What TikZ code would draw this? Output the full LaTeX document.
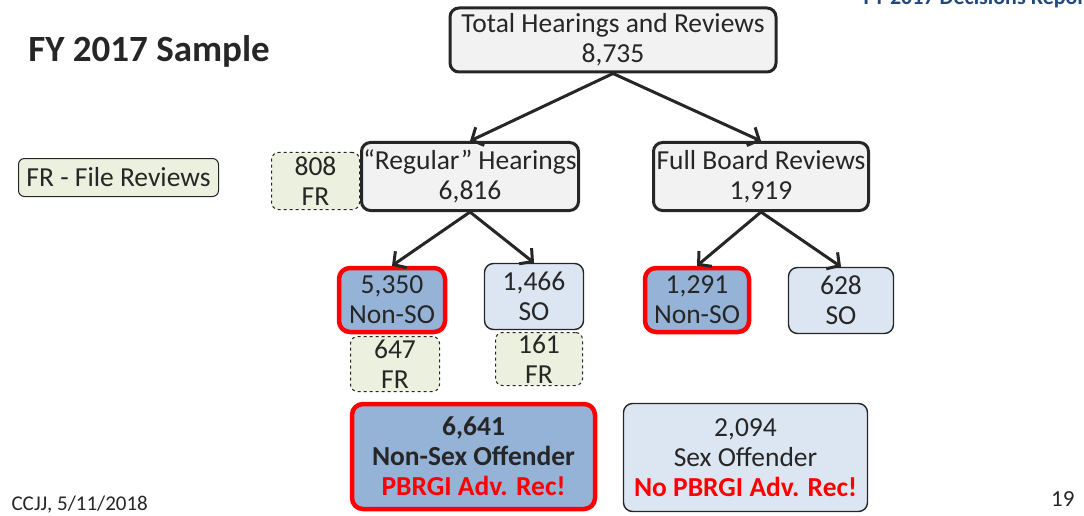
\documentclass[tikz,border=0pt]{standalone}
\usepackage{fontspec}
\setmainfont{Carlito}
\usetikzlibrary{arrows.meta}
\definecolor{boxline}{RGB}{38,38,38}
\definecolor{greyfill}{RGB}{242,242,243}
\definecolor{nonsofill}{RGB}{149,179,215}
\definecolor{sofill}{RGB}{220,230,242}
\definecolor{frfill}{RGB}{235,241,222}
\definecolor{hdrblue}{RGB}{31,73,125}
\tikzset{
  txt/.style={font=\fontsize{27.5}{30}\selectfont, align=center, inner sep=0pt, text=boxline},
  topbox/.style={txt, draw=boxline, line width=3pt, rounded corners=9pt, fill=greyfill},
  sobox/.style={txt, draw=boxline, line width=1.4pt, rounded corners=9pt, fill=sofill},
  nonsobox/.style={txt, draw=red, line width=4.5pt, rounded corners=11pt, fill=nonsofill},
  frbox/.style={txt, draw=boxline, line width=1pt, dashed, rounded corners=7pt, fill=frfill},
  link/.style={line width=3pt, draw=boxline, -{Straight Barb[length=9pt,width=20pt]}}
}

\begin{document}
\begin{tikzpicture}[x=1pt,y=-1pt]
		%%%%% START %%%%%
		\clip (0,0) rectangle (1084,516);
		
		\node[anchor=base west, font=\fontsize{22}{24}\selectfont\bfseries, text=hdrblue] (hdr) at (860,5) {FY 2017 Decisions Report};
		\node[font=\fontsize{37}{40}\selectfont\bfseries, text=boxline] (title) at (149,51) {FY 2017 Sample};
		\node[txt, draw=boxline, line width=1pt, rounded corners=6pt, fill=frfill, minimum width=200, minimum height=38] (legend) at (118.5,177.5) {FR - File Reviews};
		
		% level 1
		\node[topbox, minimum width=326, minimum height=64] (total) at (613,40) {Total Hearings and Reviews\\8,735};
		
		% level 2
		\node[frbox, minimum width=88, minimum height=57] (fr808) at (315.5,181) {808\\FR};
		\node[topbox, minimum width=217, minimum height=68] (regular) at (470,176.5) {``Regular'' Hearings\\6,816};
		\node[topbox, minimum width=215, minimum height=68] (full) at (761,176.5) {Full Board Reviews\\1,919};
		
		% level 3
		\node[nonsobox, minimum width=106, minimum height=64] (nonsoA) at (392,300) {5,350\\Non-SO};
		\node[sobox, minimum width=99, minimum height=66] (soA) at (534,296.5) {1,466\\SO};
		\node[frbox, minimum width=89, minimum height=55] (fr647) at (395,364) {647\\FR};
		\node[frbox, minimum width=87, minimum height=53] (fr161) at (539,359) {161\\FR};
		\node[nonsobox, minimum width=104, minimum height=64] (nonsoB) at (697,300) {1,291\\Non-SO};
		\node[sobox, minimum width=105, minimum height=66] (soB) at (841,300.5) {628\\SO};
		
		% totals
		\node[nonsobox, minimum width=243, minimum height=105, font=\fontsize{27.5}{30}\selectfont\bfseries] (nonsex) at (473.5,456.5) {6,641\\Non-Sex Offender\\\textcolor{red}{PBRGI Adv. Rec!}};
		\node[sobox, minimum width=244, minimum height=108] (sex) at (745.5,457.5) {2,094\\Sex Offender\\\textcolor{red}{\bfseries No PBRGI Adv. Rec!}};
		
		\draw[link] (total.south) -- (regular.north);
		\draw[link] (total.south) -- (full.north);
		\draw[link] (regular.south) -- (nonsoA.north);
		\draw[link] (regular.south) -- (soA.north);
		\draw[link] (full.south) -- (nonsoB.north);
		\draw[link] (full.south) -- (soB.north);
		
		\node[anchor=base west, font=\fontsize{21}{24}\selectfont, text=boxline] (date) at (8,510) {CCJJ, 5/11/2018};
		\node[anchor=base east, font=\fontsize{23}{26}\selectfont, text=boxline] (page) at (1078,506) {19};
		%%%%% END %%%%%
\end{tikzpicture}
\end{document}
